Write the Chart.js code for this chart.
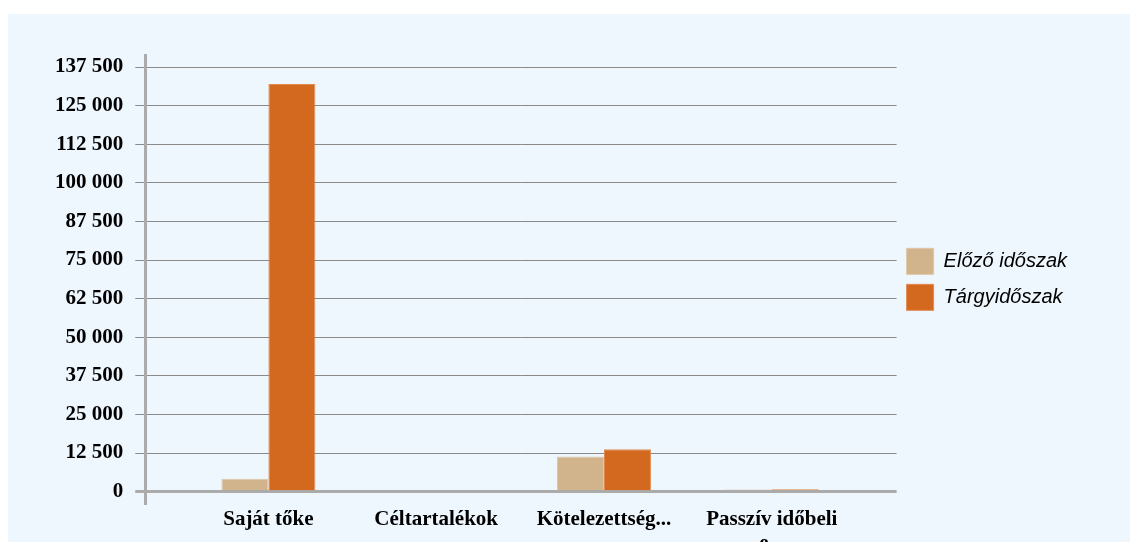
<!DOCTYPE html>
<html>
<head>
<meta charset="utf-8">
<script src="https://cdn.jsdelivr.net/npm/chart.js@4"></script>
<style>
  body { margin: 0; background: #fff; }
  #panel { position: absolute; left: 8px; top: 14px; width: 1122px; height: 528px; background: #EEF6FE; overflow: hidden; }
  #wrap { position: absolute; left: 0; top: 0; width: 1122px; height: 546px; }
</style>
</head>
<body>
<div id="panel"><div id="wrap"><canvas id="diagram"></canvas></div></div>
<script>
// adatok
var categories = ['Saját tőke', 'Céltartalékok', 'Kötelezettség...', ['Passzív időbeli', 'e...']];
var seriesNames = ['Előző időszak', 'Tárgyidőszak'];
var elozo = [4200, 0, 11400, 700];
var targy = [132000, 0, 13700, 800];
var tickValues = [0, 12500, 25000, 37500, 50000, 62500, 75000, 87500, 100000, 112500, 125000, 137500];
var tickLabels = ['0', '12 500', '25 000', '37 500', '50 000', '62 500', '75 000', '87 500', '100 000', '112 500', '125 000', '137 500'];

var ctx = document.getElementById('diagram').getContext('2d');
var grafik = new Chart(ctx, {
  type: 'bar',
  data: {
    labels: categories,
    datasets: [{
      label: seriesNames[0],
      data: elozo,
      backgroundColor: '#D2B48C',
      borderColor: '#DEC6A6',
      borderWidth: 1
    }, {
      label: seriesNames[1],
      data: targy,
      backgroundColor: '#D2691E',
      borderColor: '#E08A50',
      borderWidth: 1
    }]
  },
  options: {
    maintainAspectRatio: false,
    responsive: true,
    animation: false,
    layout: { padding: { top: 41, left: 35, right: 53, bottom: 0 } },
    categoryPercentage: 0.56,
    barPercentage: 1,
    plugins: {
      tooltip: { enabled: false },
      legend: {
        position: 'right',
        fullSize: false,
        labels: {
          boxWidth: 27,
          boxHeight: 26,
          padding: 10,
          color: '#000',
          font: { family: 'Liberation Sans, Arial, sans-serif', size: 20, style: 'italic' }
        }
      }
    },
    scales: {
      x: {
        offset: false,
        grid: { display: false, drawTicks: false },
        border: { display: false },
        afterBuildTicks: function (scale) {
          // a kategóriák ne a tengely szélén kezdődjenek
          scale._startValue = -0.734;
          scale._valueRange = 4.478;
        },
        ticks: {
          autoSkip: false,
          maxRotation: 0,
          padding: 4,
          color: '#000',
          font: { family: 'Liberation Serif, Times New Roman, serif', size: 21, weight: 'bold', lineHeight: 1.15 }
        }
      },
      y: {
        min: -3900,
        max: 141400,
        afterBuildTicks: function (scale) {
          scale.ticks = tickValues.map(function (v) { return { value: v }; });
        },
        grid: {
          color: function (c) { return c.tick && c.tick.value === 0 ? '#ABABAB' : '#8A8A8A'; },
          lineWidth: function (c) { return c.tick && c.tick.value === 0 ? 3 : 1; },
          tickLength: 10
        },
        border: { color: '#ABABAB', width: 3 },
        ticks: {
          padding: 12,
          color: '#000',
          font: { family: 'Liberation Serif, Times New Roman, serif', size: 21, weight: 'bold' },
          callback: function (value) {
            var i = tickValues.indexOf(value);
            return i >= 0 ? tickLabels[i] : '';
          }
        }
      }
    }
  }
});
</script>
</body>
</html>
